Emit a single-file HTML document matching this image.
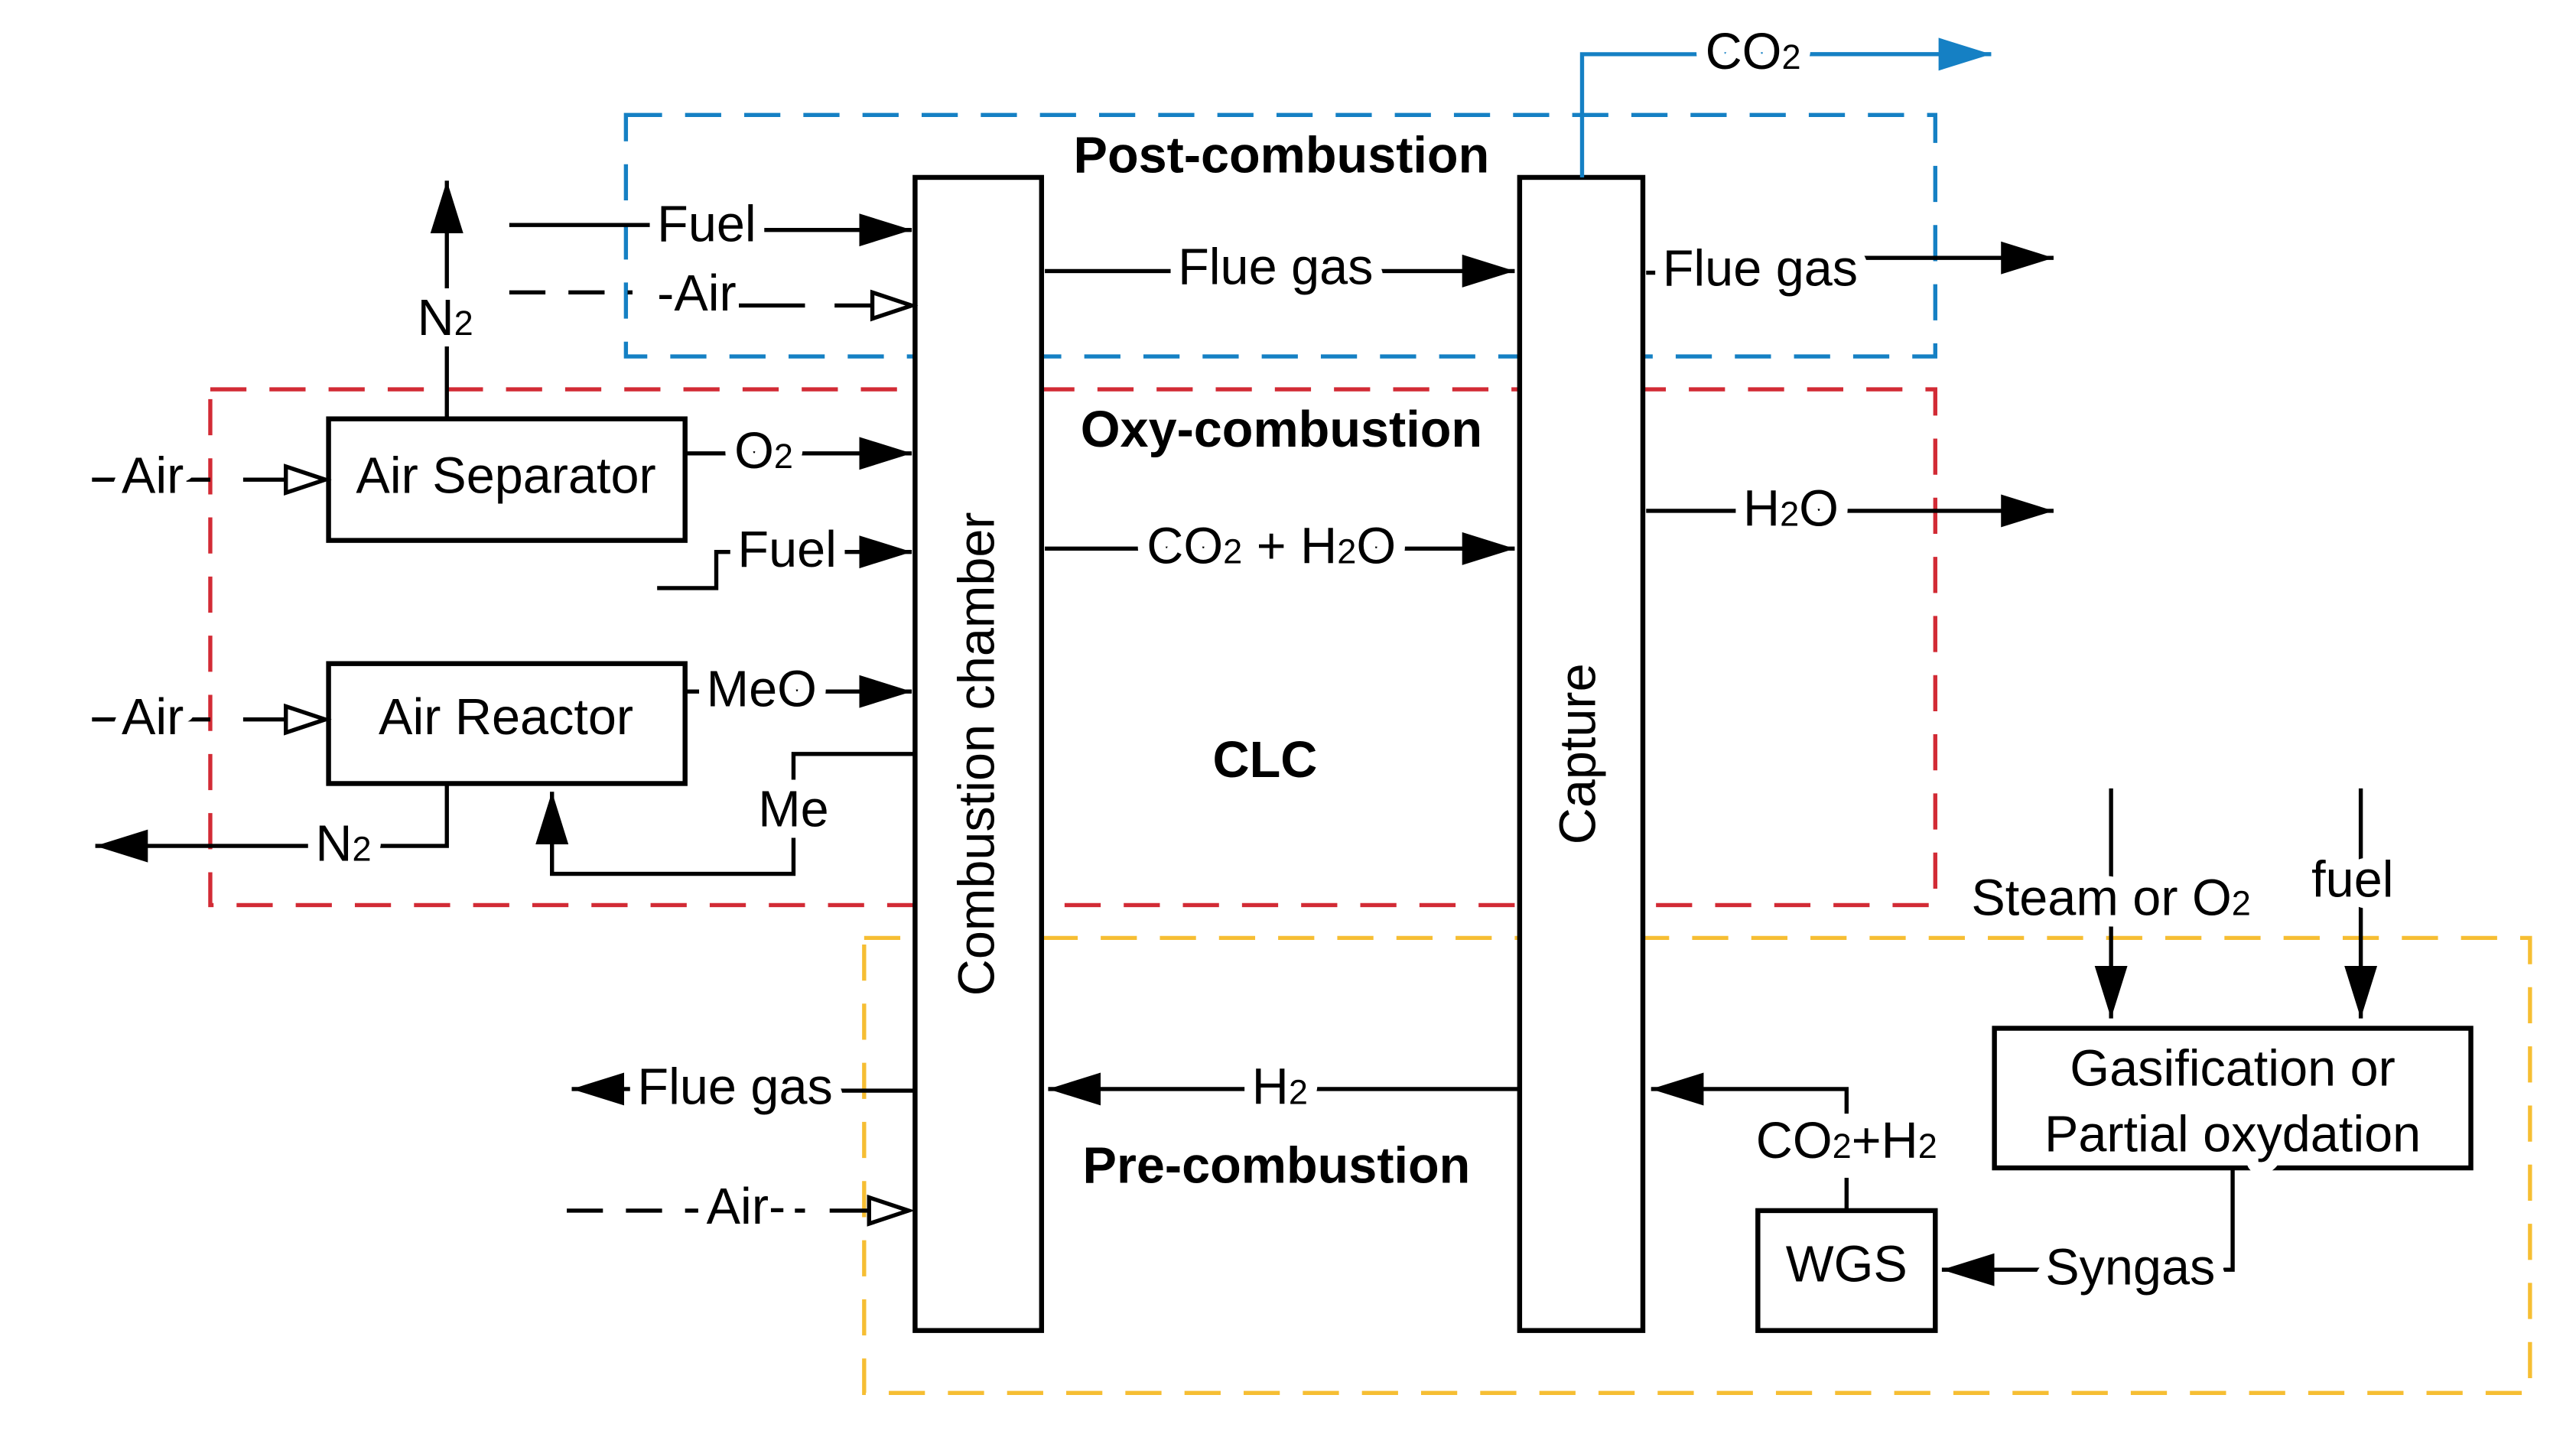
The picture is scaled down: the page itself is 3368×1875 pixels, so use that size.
<!DOCTYPE html>
<html><head><meta charset="utf-8"><style>html,body{margin:0;padding:0;background:#fff}svg{display:block}</style></head><body>
<svg width="3368" height="1875" viewBox="0 0 1568 873" preserveAspectRatio="none" xmlns="http://www.w3.org/2000/svg" xmlns:xlink="http://www.w3.org/1999/xlink">
<defs>
<marker id="a" markerUnits="userSpaceOnUse" markerWidth="34" markerHeight="24" refX="32" refY="12" orient="auto"><path d="M0,2 L32,12 L0,22 Z" fill="#000"/></marker>
<marker id="ab" markerUnits="userSpaceOnUse" markerWidth="34" markerHeight="24" refX="32" refY="12" orient="auto"><path d="M0,2 L32,12 L0,22 Z" fill="#1580c4"/></marker>
<marker id="o" markerUnits="userSpaceOnUse" markerWidth="30" markerHeight="22" refX="26" refY="11" orient="auto"><path d="M2,3 L26,11 L2,19 Z" fill="#fff" stroke="#000" stroke-width="2.5"/></marker>
<g id="t" font-family="Liberation Sans, sans-serif" font-size="31">
<text x="780" y="105" text-anchor="middle" font-weight="bold">Post-combustion</text>
<text x="780" y="272" text-anchor="middle" font-weight="bold">Oxy-combustion</text>
<text x="770" y="473" text-anchor="middle" font-weight="bold">CLC</text>
<text x="777" y="720" text-anchor="middle" font-weight="bold">Pre-combustion</text>
<text x="400" y="147">Fuel</text>
<text x="400" y="189">-Air</text>
<text x="717" y="173">Flue gas</text>
<text x="1012" y="174">Flue gas</text>
<text x="1038" y="42">CO<tspan font-size="21">2</tspan></text>
<text x="254" y="204">N<tspan font-size="21">2</tspan></text>
<text x="74" y="300">Air</text>
<text x="74" y="447">Air</text>
<text x="308" y="300" text-anchor="middle">Air Separator</text>
<text x="308" y="447" text-anchor="middle">Air Reactor</text>
<text x="447" y="285">O<tspan font-size="21">2</tspan></text>
<text x="449" y="345">Fuel</text>
<text x="430" y="430">MeO</text>
<text x="483" y="503" text-anchor="middle">Me</text>
<text x="192" y="524">N<tspan font-size="21">2</tspan></text>
<text x="698" y="343">CO<tspan font-size="21">2</tspan> + H<tspan font-size="21">2</tspan>O</text>
<text x="1061" y="320">H<tspan font-size="21">2</tspan>O</text>
<text transform="translate(605,459) rotate(-90)" text-anchor="middle">Combustion chamber</text>
<text transform="translate(971,459) rotate(-90)" text-anchor="middle">Capture</text>
<text x="1285" y="557" text-anchor="middle">Steam or O<tspan font-size="21">2</tspan></text>
<text x="1432" y="546" text-anchor="middle">fuel</text>
<text x="1359" y="661" text-anchor="middle">Gasification or</text>
<text x="1359" y="701" text-anchor="middle">Partial oxydation</text>
<text x="1124" y="780" text-anchor="middle">WGS</text>
<text x="1245" y="782">Syngas</text>
<text x="1124" y="705" text-anchor="middle">CO<tspan font-size="21">2</tspan>+H<tspan font-size="21">2</tspan></text>
<text x="762" y="672">H<tspan font-size="21">2</tspan></text>
<text x="388" y="672">Flue gas</text>
<text x="430" y="745">Air-</text>
</g>
</defs>
<g fill="none" stroke-width="2.5" stroke-dasharray="22,14">
<rect x="381" y="70" width="797" height="147" stroke="#1580c4"/>
<rect x="128" y="237" width="1050" height="314" stroke="#d22b35"/>
<rect x="526" y="571" width="1014" height="277" stroke="#f6be33"/>
</g>
<g fill="#fff" stroke="#000" stroke-width="3">
<rect x="557" y="108" width="77" height="702"/>
<rect x="925" y="108" width="75" height="702"/>
<rect x="200" y="255" width="217" height="74"/>
<rect x="200" y="404" width="217" height="73"/>
<rect x="1214" y="626" width="290" height="85"/>
<rect x="1070" y="737" width="108" height="73"/>
</g>
<g fill="none" stroke="#000" stroke-width="2.5">
<line x1="272" y1="255" x2="272" y2="110" marker-end="url(#a)"/>
<path d="M310,137 H420 V140"/>
<line x1="420" y1="140" x2="555" y2="140" marker-end="url(#a)"/>
<path d="M310,178 H385" stroke-dasharray="22,14"/>
<path d="M440,186 H490"/>
<line x1="508" y1="186" x2="555" y2="186" marker-end="url(#o)"/>
<line x1="636" y1="165" x2="922" y2="165" marker-end="url(#a)"/>
<path d="M1002,166 H1020"/>
<line x1="1130" y1="157" x2="1250" y2="157" marker-end="url(#a)"/>
<path d="M56,292 H128"/>
<line x1="148" y1="292" x2="198" y2="292" marker-end="url(#o)"/>
<path d="M56,438 H128"/>
<line x1="148" y1="438" x2="198" y2="438" marker-end="url(#o)"/>
<line x1="418" y1="276" x2="555" y2="276" marker-end="url(#a)"/>
<path d="M400,358 H436 V336 H460"/>
<line x1="460" y1="336" x2="555" y2="336" marker-end="url(#a)"/>
<line x1="418" y1="421" x2="555" y2="421" marker-end="url(#a)"/>
<path d="M557,459 H483 V476"/>
<path d="M483,508 V532 H336 V482" marker-end="url(#a)"/>
<path d="M272,477 V515 H200"/>
<line x1="200" y1="515" x2="58" y2="515" marker-end="url(#a)"/>
<line x1="636" y1="334" x2="922" y2="334" marker-end="url(#a)"/>
<line x1="1002" y1="311" x2="1250" y2="311" marker-end="url(#a)"/>
<line x1="1285" y1="480" x2="1285" y2="620" marker-end="url(#a)"/>
<line x1="1437" y1="480" x2="1437" y2="620" marker-end="url(#a)"/>
<path d="M1359,711 V773 H1300"/>
<line x1="1300" y1="773" x2="1182" y2="773" marker-end="url(#a)"/>
<path d="M1124,737 V717"/>
<path d="M1124,678 V663 H1005" marker-end="url(#a)"/>
<line x1="924" y1="663" x2="638" y2="663" marker-end="url(#a)"/>
<path d="M557,664 H450"/>
<line x1="450" y1="663" x2="348" y2="663" marker-end="url(#a)"/>
<path d="M345,737 H425" stroke-dasharray="22,14"/>
<path d="M480,737 H490"/>
<line x1="505" y1="737" x2="553" y2="737" marker-end="url(#o)"/>
</g>
<path d="M963,108 V33 H1212" fill="none" stroke="#1580c4" stroke-width="2.5"/>
<line x1="1100" y1="33" x2="1212" y2="33" stroke="#1580c4" stroke-width="2.5" marker-end="url(#ab)"/>
<use xlink:href="#t" href="#t" fill="#fff" stroke="#fff" stroke-width="14" stroke-linejoin="round"/>
<use xlink:href="#t" href="#t" fill="#000" stroke="none"/>
</svg>
</body></html>
